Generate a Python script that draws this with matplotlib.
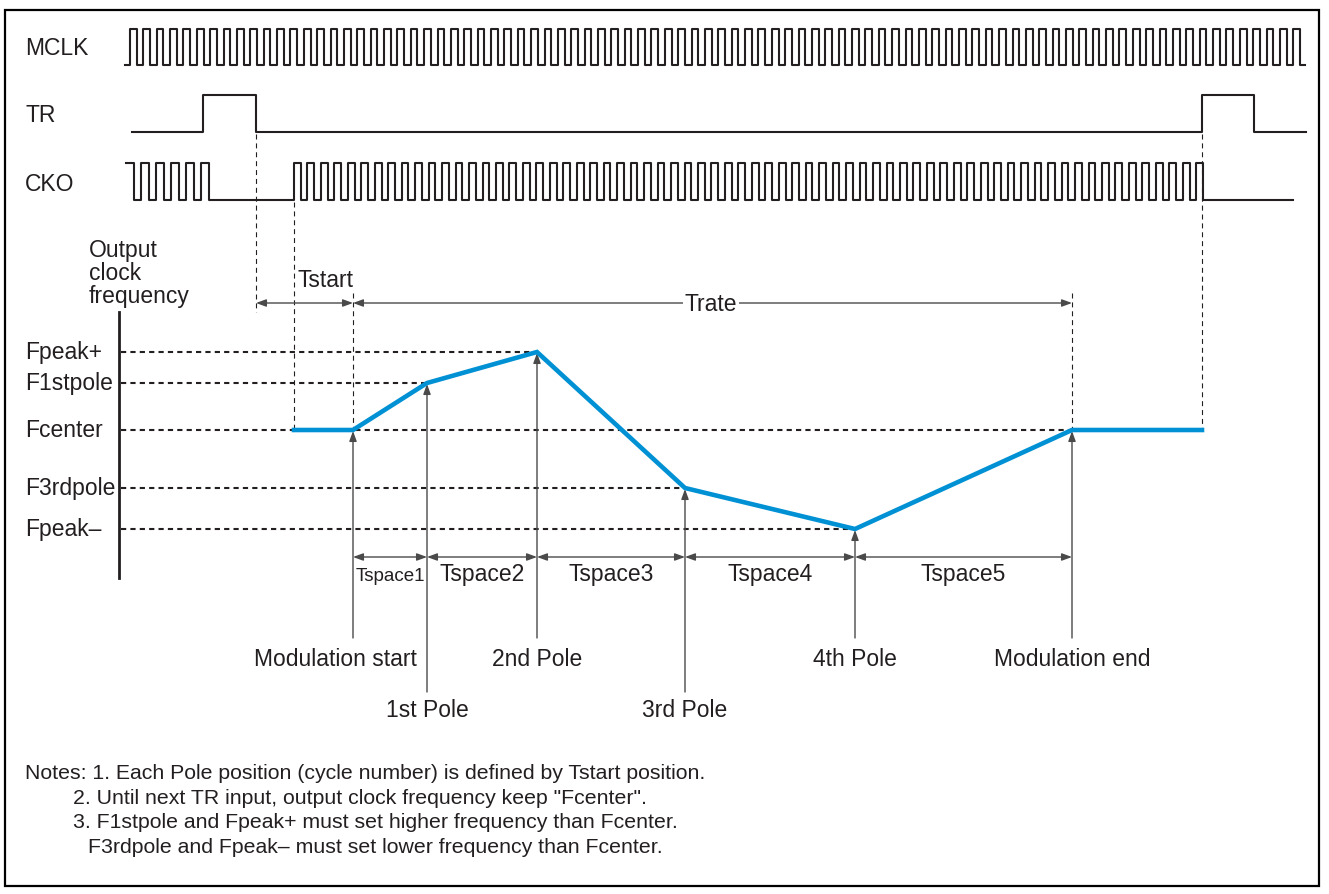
import matplotlib.pyplot as plt
from matplotlib.patches import Rectangle

plt.rcParams['font.family'] = ['Liberation Sans', 'DejaVu Sans']

# ---- data (time axis and frequency axis both in drawing units) ----
signal_names = ['MCLK', 'TR', 'CKO']

# MCLK: continuous clock
mclk_start, mclk_first_rise, mclk_last_fall, mclk_end = 125, 130, 1300, 1305
mclk_cycles = 88

# TR: two trigger pulses
tr_start, tr_end = 132, 1306
tr_pulses = [(203, 256), (1202, 1254)]

# CKO: output clock, stopped between TR falling and Tstart end
cko_pre = (126, 209, 6)      # first rise, last fall, cycles
cko_post = (294, 1203, 68)
cko_end = 1293

# frequency profile
freq_names = ['Fpeak+', 'F1stpole', 'Fcenter', 'F3rdpole', 'Fpeak\u2013']
freq_levels = [352, 383, 430, 488, 529]
profile_t = [294, 353, 427, 537, 685, 855, 1072, 1202]
profile_f = [430, 430, 383, 352, 488, 529, 430, 430]

# events
event_names = ['Modulation start', '1st Pole', '2nd Pole', '3rd Pole', '4th Pole', 'Modulation end']
event_t = [353, 427, 537, 685, 855, 1072]
event_f = [430, 383, 352, 488, 529, 430]
event_row = [0, 1, 0, 1, 0, 0]

tspace_names = ['Tspace1', 'Tspace2', 'Tspace3', 'Tspace4', 'Tspace5']

notes = [
    'Notes: 1. Each Pole position (cycle number) is defined by Tstart position.',
    '2. Until next TR input, output clock frequency keep "Fcenter".',
    '3. F1stpole and Fpeak+ must set higher frequency than Fcenter.',
    'F3rdpole and Fpeak\u2013 must set lower frequency than Fcenter.',
]

# ---- helpers ----
def clock(first_rise, last_fall, n, low, high):
    p = (last_fall - first_rise) / (n - 0.5)
    xs, ys = [], []
    for i in range(n):
        r = first_rise + i * p
        f = r + p / 2
        xs += [r, r, f, f]
        ys += [low, high, high, low]
    return xs, ys


ink = '#231f20'
gray = '#4a4a4a'
blue = '#0091d5'
fs = 16.5

fig = plt.figure(figsize=(13.29, 8.94), dpi=100)
ax = fig.add_axes([0, 0, 1, 1])
ax.set_xlim(0, 1329)
ax.set_ylim(894, 0)
ax.axis('off')

ax.add_patch(Rectangle((5, 10), 1314, 876, fill=False, lw=1.6, ec='black'))

# signal rows
lvl = {'MCLK': (65, 29), 'TR': (132, 95), 'CKO': (200, 163)}
base = {'MCLK': 55, 'TR': 122, 'CKO': 191}
for name in signal_names:
    ax.text(25, base[name], name, fontsize=fs, color=ink, va='baseline')

lo, hi = lvl['MCLK']
xs, ys = clock(mclk_first_rise, mclk_last_fall, mclk_cycles, lo, hi)
ax.plot([mclk_start] + xs + [mclk_end], [lo] + ys + [lo], color=ink, lw=1.5)

lo, hi = lvl['TR']
xs, ys = [tr_start], [lo]
for r, f in tr_pulses:
    xs += [r, r, f, f]
    ys += [lo, hi, hi, lo]
ax.plot(xs + [tr_end], ys + [lo], color=ink, lw=1.5)

lo, hi = lvl['CKO']
x1, y1 = clock(cko_pre[0], cko_pre[1], cko_pre[2], lo, hi)
x2, y2 = clock(cko_post[0], cko_post[1], cko_post[2], lo, hi)
ax.plot(x1[1:] + x2 + [cko_end], y1[1:] + y2 + [lo], color=ink, lw=1.5)

# vertical dashed guides
vd = dict(color=ink, lw=0.8, ls=(0, (4.5, 3.5)))
ax.plot([256, 256], [134, 312], **vd)
ax.plot([294, 294], [202, 430], **vd)
ax.plot([353, 353], [293, 430], **vd)
ax.plot([1072, 1072], [293, 430], **vd)
ax.plot([1202, 1202], [134, 430], **vd)

# frequency axis
ax.plot([119, 119], [312, 578], color=ink, lw=2)
for i, line in enumerate(['Output', 'clock', 'frequency']):
    ax.text(89, 257 + 23 * i, line, fontsize=fs, color=ink, va='baseline')

ends = [537, 427, 1072, 685, 855]
for name, f, e in zip(freq_names, freq_levels, ends):
    ax.plot([121, e], [f, f], color=ink, lw=1.5, ls=(0, (2.5, 2)))
    ax.text(25, f + 7, name, fontsize=fs, color=ink, va='baseline')

ax.plot(profile_t, profile_f, color=blue, lw=3.3, solid_joinstyle='miter', zorder=5)

def arrow(x0, y0, x1, y1, style='-|>'):
    ax.annotate('', xy=(x1, y1), xytext=(x0, y0),
                arrowprops=dict(arrowstyle=style + ',head_length=0.6,head_width=0.22',
                                color=gray, lw=1, shrinkA=0, shrinkB=0))

# Tstart / Trate
arrow(256, 303, 353, 303, '<|-|>')
arrow(353, 303, 1072, 303, '<|-|>')
ax.text(298, 287, 'Tstart', fontsize=fs, color=ink, va='baseline')
ax.text(711, 311, 'Trate', fontsize=fs, color=ink, va='baseline', ha='center',
        bbox=dict(fc='white', ec='none', pad=1))

# pole arrows and labels
for i, (name, t, f, row) in enumerate(zip(event_names, event_t, event_f, event_row)):
    bottom = 638 if row == 0 else 692
    arrow(t, bottom, t, f + 1)
    lx = t - 18 if i == 0 else t
    ax.text(lx, 666 + 51 * row, name, fontsize=fs, color=ink, ha='center', va='baseline')

# Tspace arrows
for i, name in enumerate(tspace_names):
    a, b = event_t[i], event_t[i + 1]
    arrow(a, 557, b, 557, '<|-|>')
    size = 13.5 if i == 0 else fs
    ax.text((a + b) / 2, 581, name, fontsize=size, color=ink, ha='center', va='baseline')

# notes
note_x = [25, 73, 73, 88]
for i, (x, line) in enumerate(zip(note_x, notes)):
    ax.text(x, 779 + 24.7 * i, line, fontsize=15.3, color=ink, va='baseline')

fig.savefig('out.png', dpi=100)
plt.close(fig)
